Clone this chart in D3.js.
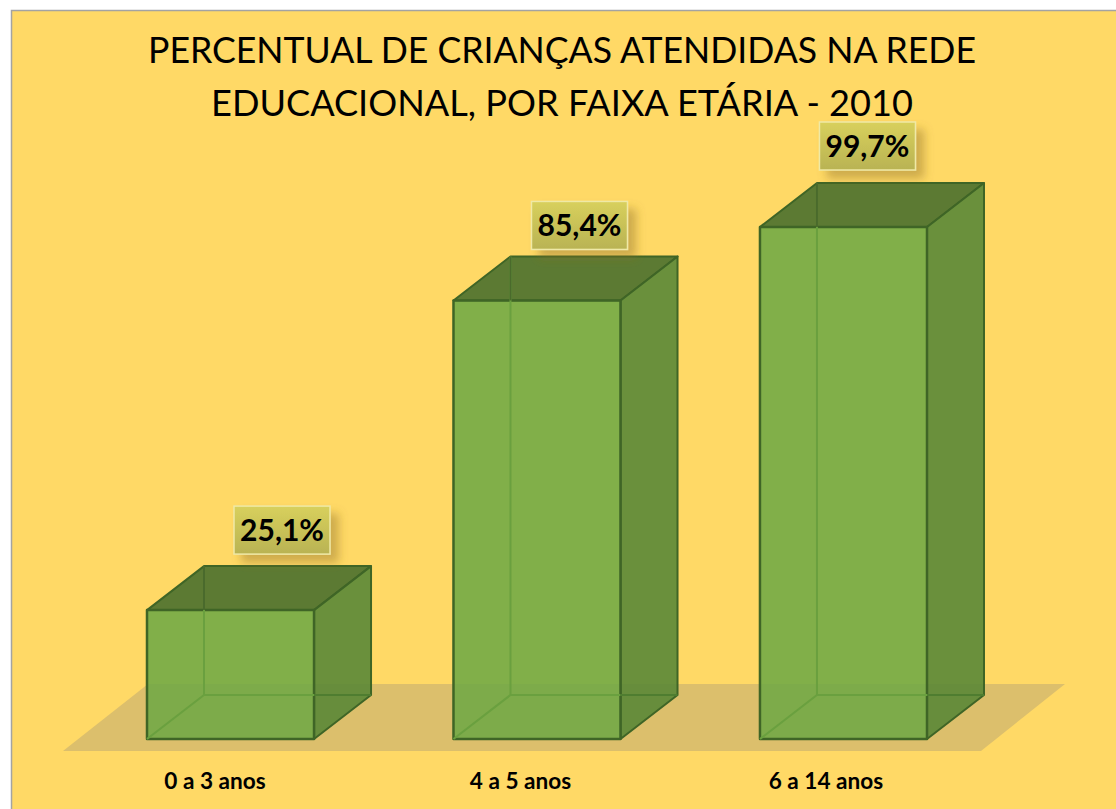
<!DOCTYPE html>
<html><head><meta charset="utf-8">
<script src="https://cdn.jsdelivr.net/npm/d3@7/dist/d3.min.js"></script>
<style>html,body{margin:0;padding:0;background:#fff;overflow:hidden}svg{display:block}</style>
</head><body><svg id="c" width="1116" height="809"></svg>
<script>
const categories = ["0 a 3 anos", "4 a 5 anos", "6 a 14 anos"];
const values = [25.1, 85.4, 99.7];
const valueLabels = ["25,1%", "85,4%", "99,7%"];
const titleLines = ["PERCENTUAL DE CRIANÇAS ATENDIDAS NA REDE", "EDUCACIONAL, POR FAIXA ETÁRIA - 2010"];

const W = 1116, H = 809, FONT = "Lato, 'Noto Sans', sans-serif";
const dx = 57, dy = -44;
const svg = d3.select("#c");
const x = d3.scaleBand().domain(categories).range([147, 927]).paddingInner(0.455);
const y = d3.scaleLinear().domain([0, 99.7]).range([739, 227]);
const labelDx = [135, 126, 107.5], labelDy = [-80, -75, -81], catDx = [68, 67, 66];
const titleLengths = [828, 702];

const defs = svg.append("defs");
const g = defs.append("linearGradient").attr("id","lab").attr("x1",0).attr("y1",0).attr("x2",0).attr("y2",1);
g.append("stop").attr("offset",0).attr("stop-color","#d8d05c");
g.append("stop").attr("offset",1).attr("stop-color","#b9b353");
const f = defs.append("filter").attr("id","sh").attr("x","-30%").attr("y","-30%").attr("width","170%").attr("height","170%");
f.append("feDropShadow").attr("dx",8).attr("dy",8).attr("stdDeviation",5).attr("flood-color","#8a6d20").attr("flood-opacity",0.42);

svg.append("rect").attr("x",11.5).attr("y",10.5).attr("width",W).attr("height",H)
  .attr("fill","#FFD966").attr("stroke","#a3a3a3").attr("stroke-width",1.5);

svg.append("g").selectAll("text").data(titleLines).join("text")
  .attr("x",562).attr("y",(d,i)=>63+i*53).attr("text-anchor","middle")
  .attr("textLength",(d,i)=>titleLengths[i]).attr("lengthAdjust","spacingAndGlyphs")
  .attr("font-family",FONT).attr("font-size",37).attr("fill","#000").text(d=>d);

const y0 = y(0);
const floorPts = [[63,751],[981,751],[1065,684],[148,684]];
svg.append("path").attr("d",d3.line()(floorPts)).attr("fill","#dcbf6c");

const STROKE = "#3f6526";
const line = d3.line();
const bars = svg.append("g").selectAll("g").data(categories).join("g");
bars.each(function(c,i){
  const s = d3.select(this), l = x(c), r = l + x.bandwidth(), t = y(values[i]), b = y0;
  const face = (pts,fill,op,stroke,sw)=> s.append("path").attr("d",line(pts)+"Z").attr("fill",fill).attr("fill-opacity",op)
     .attr("stroke",stroke).attr("stroke-width",sw).attr("stroke-linejoin","round");
  face([[l,t],[r,t],[r+dx,t+dy],[l+dx,t+dy]],"#5c7a33",1,STROKE,2);
  face([[r,t],[r+dx,t+dy],[r+dx,b+dy],[r,b]],"#5a8737",0.9,STROKE,2);
  face([[l,t],[r,t],[r,b],[l,b]],"#6FA845",0.88,STROKE,2.5);
  const edge = (pts,col)=> s.append("path").attr("d",line(pts)).attr("stroke",col).attr("stroke-width",2).attr("fill","none");
  edge([[l+dx,t+dy],[l+dx,b+dy]],"#6aa03f");
  edge([[l,b],[l+dx,b+dy],[r,b+dy]],"#6aa03f");
  edge([[r,b+dy],[r+dx,b+dy]],"#4f7d30");
  edge([[l+dx,t+dy],[l+dx,t]],"#4a6a2c");
  const cx = l + labelDx[i], cy = t + labelDy[i];
  s.append("rect").attr("x",cx-48).attr("y",cy-24).attr("width",96).attr("height",48)
    .attr("fill","url(#lab)").attr("stroke","#efe9a6").attr("stroke-width",1.5).attr("filter","url(#sh)");
  s.append("text").attr("x",cx).attr("y",cy+11).attr("text-anchor","middle").attr("font-family",FONT)
    .attr("font-weight",700).attr("font-size",30).attr("fill","#000").text(valueLabels[i]);
  s.append("text").attr("x",l+catDx[i]).attr("y",789).attr("text-anchor","middle").attr("font-family",FONT)
    .attr("font-weight",700).attr("font-size",22.6).attr("fill","#000").text(c);
});
</script></body></html>
